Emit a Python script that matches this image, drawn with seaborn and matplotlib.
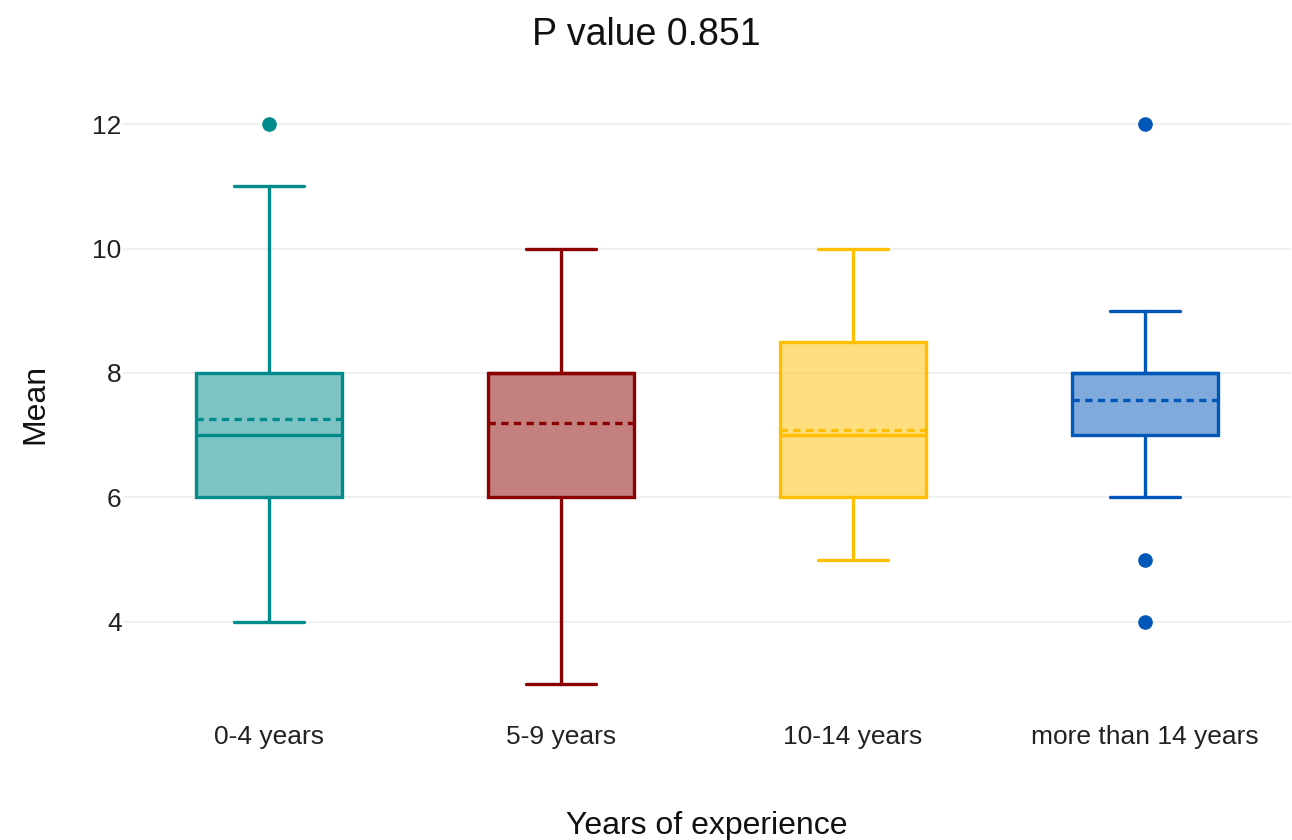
import matplotlib
matplotlib.use("Agg")
import matplotlib.pyplot as plt
from matplotlib.colors import to_rgba
import seaborn as sns

# Summary statistics per experience group
categories = ["0-4 years", "5-9 years", "10-14 years", "more than 14 years"]
lower_whisker = [4, 3, 5, 6]
q1 = [6, 6, 6, 7]
median = [7, 8, 7, 8]
q3 = [8, 8, 8.5, 8]
upper_whisker = [11, 10, 10, 9]
mean = [7.26, 7.19, 7.08, 7.56]
outliers = [[12], [], [], [12, 5, 4]]
y_ticks = [4, 6, 8, 10, 12]

colors = ["#008B8B", "#8B0000", "#FFBF00", "#0057B8"]

sns.set_theme(style="white")
plt.rcParams["font.family"] = ["Liberation Sans", "DejaVu Sans"]

fig = plt.figure(figsize=(12.92, 8.40), dpi=100)
ax = fig.add_axes([123 / 1292, 1 - 715 / 840, (1291 - 123) / 1292, (715 - 93) / 840])

lw = 2.4
for i, cat in enumerate(categories):
    stats = [{
        "label": cat,
        "whislo": lower_whisker[i],
        "q1": q1[i],
        "med": median[i],
        "q3": q3[i],
        "whishi": upper_whisker[i],
        "mean": mean[i],
        "fliers": outliers[i],
    }]
    c = colors[i]
    ax.bxp(
        stats,
        positions=[i],
        widths=0.5,
        capwidths=0.24,
        patch_artist=True,
        showmeans=True,
        meanline=True,
        boxprops=dict(facecolor=to_rgba(c, 0.5), edgecolor=c, linewidth=lw),
        medianprops=dict(color=c, linewidth=lw),
        meanprops=dict(color=c, linewidth=lw, linestyle=(0, (2.2, 1.6))),
        whiskerprops=dict(color=c, linewidth=lw),
        capprops=dict(color=c, linewidth=lw),
        flierprops=dict(marker="o", markersize=9.5, markerfacecolor=c,
                        markeredgecolor=c, linestyle="none"),
        zorder=3,
    )

ax.set_xlim(-0.5, 3.5)
ax.set_ylim(2.5, 12.5)
ax.set_xticks(range(len(categories)))
ax.set_xticklabels(categories)
ax.set_yticks(y_ticks)
ax.set_yticklabels([str(t) for t in y_ticks])

ax.grid(axis="y", color="#F0F0F0", linewidth=1.5, zorder=0)
ax.grid(axis="x", visible=False)
for s in ax.spines.values():
    s.set_visible(False)

ax.tick_params(axis="both", length=0, labelsize=19, colors="#222222")
ax.tick_params(axis="y", pad=1)
ax.tick_params(axis="x", pad=7)

ax.set_xlabel("Years of experience", fontsize=23, color="#111111", labelpad=45)
ax.set_ylabel("Mean", fontsize=23, color="#111111", labelpad=30)

fig.text(0.5, 1 - 35 / 840, "P value 0.851", ha="center", va="center",
         fontsize=27, color="#111111")

fig.savefig("out.png", dpi=100, facecolor="white")
